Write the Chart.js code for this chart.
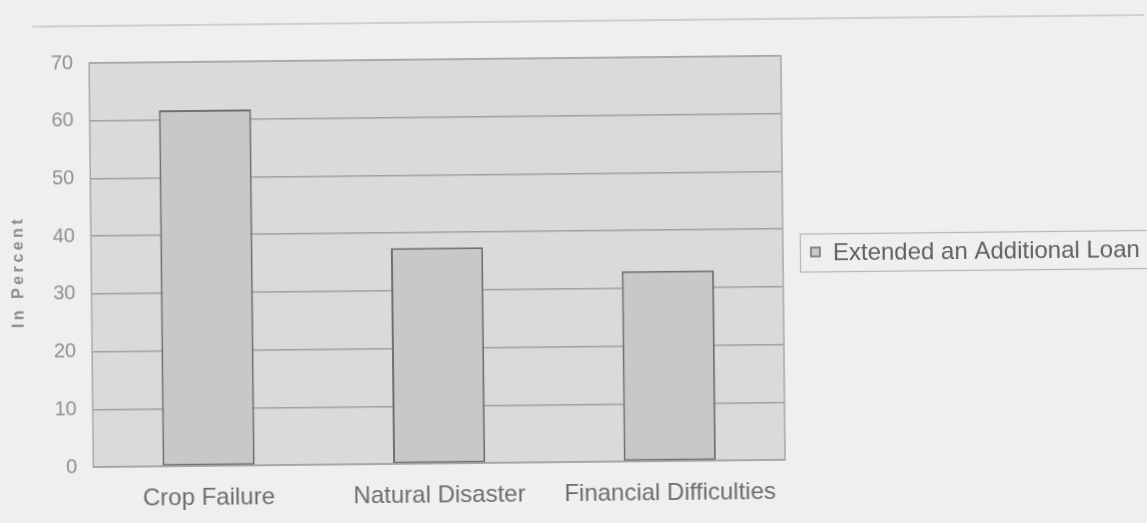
<!DOCTYPE html>
<html>
<head>
<meta charset="utf-8">
<title>Extended an Additional Loan</title>
<script src="https://cdn.jsdelivr.net/npm/chart.js@4.4.1/dist/chart.umd.min.js"></script>
<style>
  html, body { margin: 0; padding: 0; background: #efefed; overflow: hidden; }
  #wrap { width: 1147px; height: 523px; transform: rotate(-0.6deg); transform-origin: 50% 50%; }
  canvas { display: block; }
</style>
</head>
<body>
<div id="wrap"><canvas id="loanChart" width="1147" height="523"></canvas></div>
<script>
// ---------- DATA ----------
const categories = ["Crop Failure", "Natural Disaster", "Financial Difficulties"];
const loanShare = [61.7, 37.4, 33];
const seriesLabel = "Extended an Additional Loan";
const axisTitle = "In Percent";
const yMin = 0;
const yMax = 70;
const yStep = 10;

// ---------- COLOURS ----------
const pageBg = "#efefed";
const plotBg = "#dadad8";
const barFill = "#c8c8c7";
const barEdge = "#6d7270";
const gridColor = "#9fa2a0";
const fontFamily = "'Liberation Sans', Arial, sans-serif";

// page + plot background, rule line at the top and the plot frame
const backdrop = {
  id: "backdrop",
  beforeDraw(chart) {
    const { ctx, chartArea: a } = chart;
    ctx.save();
    ctx.fillStyle = pageBg;
    ctx.fillRect(0, 0, chart.width, chart.height);

    ctx.strokeStyle = "#c4c4c2";
    ctx.lineWidth = 1.5;
    ctx.beginPath();
    ctx.moveTo(35, 21);
    ctx.lineTo(chart.width, 21);
    ctx.stroke();

    ctx.fillStyle = plotBg;
    ctx.fillRect(a.left, a.top, a.right - a.left, a.bottom - a.top);
    ctx.restore();
  },
  afterDraw(chart) {
    const { ctx, chartArea: a } = chart;
    ctx.save();
    ctx.strokeStyle = "#a6aaa8";
    ctx.lineWidth = 1.5;
    ctx.strokeRect(a.left, a.top, a.right - a.left, a.bottom - a.top);
    ctx.restore();
  }
};

// rotated y axis title
const yTitle = {
  id: "yTitle",
  afterDraw(chart) {
    const { ctx, chartArea: a } = chart;
    ctx.save();
    ctx.translate(19, (a.top + a.bottom) / 2 + 6);
    ctx.rotate(-Math.PI / 2);
    ctx.font = "bold 16px " + fontFamily;
    ctx.fillStyle = "#8a8e8c";
    if ("letterSpacing" in ctx) ctx.letterSpacing = "3.5px";
    ctx.textAlign = "center";
    ctx.textBaseline = "middle";
    ctx.fillText(axisTitle, 0, 0);
    ctx.restore();
  }
};

// boxed legend to the right of the plot
const boxLegend = {
  id: "boxLegend",
  afterDraw(chart) {
    const { ctx } = chart;
    const ds = chart.data.datasets[0];
    const x = 800, y = 236, h = 38;
    ctx.save();
    ctx.strokeStyle = "#b4b7b5";
    ctx.lineWidth = 1.2;
    ctx.strokeRect(x + 0.5, y + 0.5, chart.width, h);

    ctx.fillStyle = ds.backgroundColor;
    ctx.fillRect(x + 11, y + 14, 9, 9);
    ctx.strokeStyle = ds.borderColor;
    ctx.lineWidth = 1.5;
    ctx.strokeRect(x + 11, y + 14, 9, 9);

    ctx.font = "24px " + fontFamily;
    ctx.fillStyle = "#5e6260";
    ctx.textBaseline = "middle";
    ctx.fillText(ds.label, x + 33, y + h / 2 + 1);
    ctx.restore();
  }
};

new Chart(document.getElementById("loanChart"), {
  type: "bar",
  data: {
    labels: categories,
    datasets: [{
      label: seriesLabel,
      data: loanShare,
      backgroundColor: barFill,
      borderColor: barEdge,
      borderWidth: 2,
      borderSkipped: false,
      barPercentage: 0.4,
      categoryPercentage: 1
    }]
  },
  options: {
    responsive: false,
    animation: false,
    layout: { padding: { left: 37, right: 364, top: 58, bottom: -4 } },
    plugins: {
      legend: { display: false },
      tooltip: { enabled: false }
    },
    scales: {
      x: {
        grid: { display: false, drawTicks: false },
        border: { display: false },
        ticks: {
          padding: 18,
          color: "#6a6e6c",
          font: { family: fontFamily, size: 24 }
        }
      },
      y: {
        min: yMin,
        max: yMax,
        grid: { color: gridColor, lineWidth: 1.5, drawTicks: false },
        border: { display: false },
        ticks: {
          stepSize: yStep,
          padding: 16,
          color: "#8d908e",
          font: { family: fontFamily, size: 20 }
        }
      }
    }
  },
  plugins: [backdrop, yTitle, boxLegend]
});
</script>
</body>
</html>
